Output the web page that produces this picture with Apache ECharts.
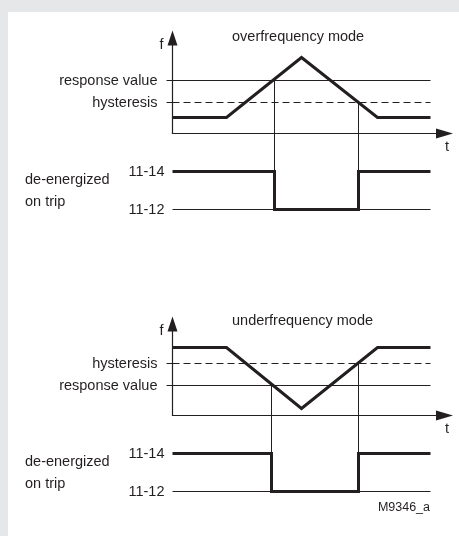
<!DOCTYPE html>
<html>
<head>
<meta charset="utf-8">
<script src="https://cdn.jsdelivr.net/npm/echarts@6/dist/echarts.min.js"></script>
<style>
  html, body { margin: 0; padding: 0; }
  #frame {
    position: absolute; left: 0; top: 0;
    width: 459px; height: 536px;
    box-sizing: border-box;
    background: #fff;
    border-top: 12px solid #e6e7e9;
    border-left: 8px solid #e6e7e9;
  }
  #chart { position: absolute; left: 0; top: 0; width: 459px; height: 536px; }
</style>
</head>
<body>
<div id="frame"></div>
<div id="chart"></div>
<script>
  // overfrequency mode
  var overTime = [0, 5.4, 12.9, 20.5, 25.8];
  var overFreq = [1.6, 1.6, 7.6, 1.6, 1.6];
  var overResponse = 5.3;
  var overHysteresis = 3.1;
  var overSwitch = [10.2, 18.6];

  // underfrequency mode
  var underTime = [0, 5.4, 12.9, 20.5, 25.8];
  var underFreq = [6.8, 6.8, 0.7, 6.8, 6.8];
  var underResponse = 3.0;
  var underHysteresis = 5.2;
  var underSwitch = [9.9, 18.6];

  var relayLabels = ['11-12', '11-14'];
  var tEnd = 25.8;

  var ink = '#231f20';
  var font = "'Liberation Sans', Arial, sans-serif";
  var fs = 14.5;

  function pairs(xs, ys) {
    return xs.map(function (x, i) { return [x, ys[i]]; });
  }
  function relayPath(sw) {
    return [[0, 1], [sw[0], 1], [sw[0], 0], [sw[1], 0], [sw[1], 1], [tEnd, 1]];
  }
  function thin(name, idx, data, dashed) {
    return {
      name: name, type: 'line', xAxisIndex: idx, yAxisIndex: idx,
      data: data, symbol: 'none', z: 2,
      lineStyle: { color: ink, width: 1, type: dashed ? [7, 4] : 'solid' }
    };
  }
  function thick(name, idx, data) {
    return {
      name: name, type: 'line', xAxisIndex: idx, yAxisIndex: idx,
      data: data, symbol: 'none', z: 3,
      lineStyle: { color: ink, width: 3, join: 'miter' }
    };
  }
  function fAxis(gridIndex, max, response, hysteresis) {
    var names = {};
    names[response] = 'response value';
    names[hysteresis] = 'hysteresis';
    return {
      type: 'value', gridIndex: gridIndex, min: 0, max: max,
      name: 'f', nameLocation: 'end', nameGap: -7,
      nameTextStyle: { fontSize: fs, color: ink, fontFamily: font, align: 'right', verticalAlign: 'middle', padding: [0, 9, 0, 0] },
      axisLine: { show: true, symbol: ['none', 'triangle'], symbolSize: [10, 15], lineStyle: { color: ink, width: 1.2 } },
      axisTick: { show: true, length: 6, customValues: [response, hysteresis], lineStyle: { color: ink, width: 1 } },
      axisLabel: {
        show: true, margin: 15, customValues: [response, hysteresis],
        fontSize: fs, color: ink, fontFamily: font,
        formatter: function (v) { return names[v] || ''; }
      },
      splitLine: { show: false }
    };
  }
  function tAxis(gridIndex) {
    return {
      type: 'value', gridIndex: gridIndex, min: 0, max: 27.2,
      name: 't', nameLocation: 'end', nameGap: 2.5,
      nameTextStyle: { fontSize: fs, color: ink, fontFamily: font, align: 'center', verticalAlign: 'top', lineHeight: 16, padding: [5, 0, 0, 0] },
      axisLine: { show: true, symbol: ['none', 'triangle'], symbolSize: [10, 17], lineStyle: { color: ink, width: 1.2 } },
      axisTick: { show: false }, axisLabel: { show: false }, splitLine: { show: false }
    };
  }
  function hiddenX(gridIndex) {
    return {
      type: 'value', gridIndex: gridIndex, min: 0, max: 27.2,
      axisLine: { show: false }, axisTick: { show: false }, axisLabel: { show: false }, splitLine: { show: false }
    };
  }
  function relayAxis(gridIndex) {
    return {
      type: 'value', gridIndex: gridIndex, min: 0, max: 2, interval: 1,
      axisLine: { show: false }, axisTick: { show: false }, splitLine: { show: false },
      axisLabel: {
        show: true, margin: 8, fontSize: fs, color: ink, fontFamily: font,
        formatter: function (v) { return relayLabels[v] || ''; }
      }
    };
  }
  function vline(x, top) { return [[x, top], [x, 0]]; }

  var titleStyle = { fontSize: fs, fontWeight: 'normal', color: ink, fontFamily: font, lineHeight: 18 };

  var chart = echarts.init(document.getElementById('chart'), null, { renderer: 'canvas' });
  chart.setOption({
    animation: false,
    backgroundColor: 'transparent',
    textStyle: { fontFamily: font, color: ink },
    title: [
      { text: 'overfrequency mode', left: 232, top: 28, padding: 0, textStyle: titleStyle },
      { text: 'underfrequency mode', left: 232, top: 312, padding: 0, textStyle: titleStyle },
      { text: 'de-energized\non trip', left: 25, top: 169, padding: 0,
        textStyle: Object.assign({}, titleStyle, { lineHeight: 22 }) },
      { text: 'de-energized\non trip', left: 25, top: 451, padding: 0,
        textStyle: Object.assign({}, titleStyle, { lineHeight: 22 }) },
      { text: 'M9346_a', right: 29, top: 499, padding: 0,
        textStyle: Object.assign({}, titleStyle, { fontSize: 12.5 }) }
    ],
    grid: [
      { left: 172.5, right: 14.5, top: 38, height: 95.5 },
      { left: 172.5, right: 14.5, top: 133.5, height: 76 },
      { left: 172.5, right: 14.5, top: 324, height: 91.5 },
      { left: 172.5, right: 14.5, top: 415.5, height: 76 }
    ],
    xAxis: [tAxis(0), hiddenX(1), tAxis(2), hiddenX(3)],
    yAxis: [
      fAxis(0, 9.55, overResponse, overHysteresis),
      relayAxis(1),
      fAxis(2, 9.15, underResponse, underHysteresis),
      relayAxis(3)
    ],
    series: [
      thin('over response', 0, [[0, overResponse], [tEnd, overResponse]], false),
      thin('over hysteresis', 0, [[0, overHysteresis], [tEnd, overHysteresis]], true),
      thin('over on', 0, vline(overSwitch[0], overResponse), false),
      thin('over off', 0, vline(overSwitch[1], overHysteresis), false),
      thick('over f', 0, pairs(overTime, overFreq)),
      thin('over 11-12', 1, [[0, 0], [tEnd, 0]], false),
      thin('over on r', 1, vline(overSwitch[0], 2), false),
      thin('over off r', 1, vline(overSwitch[1], 2), false),
      thick('over relay', 1, relayPath(overSwitch)),

      thin('under response', 2, [[0, underResponse], [tEnd, underResponse]], false),
      thin('under hysteresis', 2, [[0, underHysteresis], [tEnd, underHysteresis]], true),
      thin('under on', 2, vline(underSwitch[0], underResponse), false),
      thin('under off', 2, vline(underSwitch[1], underHysteresis), false),
      thick('under f', 2, pairs(underTime, underFreq)),
      thin('under 11-12', 3, [[0, 0], [tEnd, 0]], false),
      thin('under on r', 3, vline(underSwitch[0], 2), false),
      thin('under off r', 3, vline(underSwitch[1], 2), false),
      thick('under relay', 3, relayPath(underSwitch))
    ]
  });
</script>
</body>
</html>
